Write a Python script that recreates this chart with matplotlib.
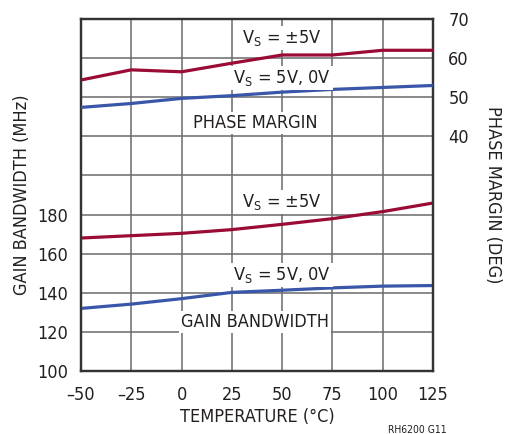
import matplotlib

matplotlib.use("Agg")
import matplotlib.pyplot as plt

plt.rcParams["font.family"] = ["DejaVu Sans"]
plt.rcParams["font.stretch"] = "condensed"
plt.rcParams["mathtext.fontset"] = "custom"
plt.rcParams["mathtext.rm"] = "DejaVu Sans:stretch=condensed"

TEMPS = [-50, -25, 0, 25, 50, 75, 100, 125]
PM_DUAL = [54.4, 57.0, 56.5, 58.7, 60.8, 60.8, 62.0, 62.0]
PM_SINGLE = [47.4, 48.4, 49.7, 50.4, 51.3, 52.0, 52.5, 53.0]
GBW_DUAL = [168.0, 169.2, 170.4, 172.3, 175.0, 177.9, 181.5, 185.9]
GBW_SINGLE = [132.0, 134.2, 137.0, 140.2, 141.3, 142.5, 143.4, 143.7]

GBW_TICKS = [100, 120, 140, 160, 180]
PM_TICKS = [40, 50, 60, 70]

RED = "#9A0B36"
BLUE = "#3A56A8"
GRID = "#6a6a6a"
TXT = "#231f20"
FS = 13

fig = plt.figure(figsize=(5.05, 4.34), dpi=100)
ax = fig.add_axes([81 / 505, 1 - 371 / 434, 352 / 505, 352 / 434])
ax2 = ax.twinx()

ax.set_xlim(-50, 125)
ax.set_ylim(100, 280)
ax2.set_ylim(-20, 70)

ax.set_xticks(TEMPS)
ax.set_xticklabels([str(t).replace("-", "\u2013") for t in TEMPS], fontsize=FS, color=TXT)
ax.set_yticks(range(100, 281, 20), minor=True)
ax.set_yticks(GBW_TICKS)
ax.set_yticklabels([str(t) for t in GBW_TICKS], fontsize=FS, color=TXT)
ax2.set_yticks(PM_TICKS)
ax2.set_yticklabels([str(t) for t in PM_TICKS], fontsize=FS, color=TXT)

ax.grid(True, which="both", color=GRID, linewidth=1.1, zorder=0)
ax.tick_params(axis="x", which="both", length=0, pad=11)
ax.tick_params(axis="y", which="both", length=0, pad=9)
ax2.tick_params(length=0, pad=11)
for a in (ax, ax2):
    for s in a.spines.values():
        s.set_color("#333333")
        s.set_linewidth(1.6)

ax.plot(TEMPS, GBW_DUAL, color=RED, linewidth=2.3, solid_capstyle="butt", zorder=3)
ax.plot(TEMPS, GBW_SINGLE, color=BLUE, linewidth=2.3, solid_capstyle="butt", zorder=3)
ax2.plot(TEMPS, PM_DUAL, color=RED, linewidth=2.3, solid_capstyle="butt", zorder=3)
ax2.plot(TEMPS, PM_SINGLE, color=BLUE, linewidth=2.3, solid_capstyle="butt", zorder=3)

box = dict(facecolor="white", edgecolor="none", pad=1.5)
labels = [
    (50, 63.9, "V$_\\mathregular{S}$ = \u00b15V"),
    (50, 53.6, "V$_\\mathregular{S}$ = 5V, 0V"),
    (36.5, 42.1, "PHASE MARGIN"),
    (50, 21.9, "V$_\\mathregular{S}$ = \u00b15V"),
    (50, 3.3, "V$_\\mathregular{S}$ = 5V, 0V"),
    (36.5, -8.7, "GAIN BANDWIDTH"),
]
for x, y, s in labels:
    ax2.text(x, y, s, ha="center", va="baseline", fontsize=FS, color=TXT, bbox=box, zorder=4)

ax.set_xlabel("TEMPERATURE (\u00b0C)", fontsize=FS, color=TXT, labelpad=3)
ax.set_ylabel("GAIN BANDWIDTH (MHz)", fontsize=FS, color=TXT, labelpad=5)
ax2.set_ylabel("PHASE MARGIN (DEG)", fontsize=FS, color=TXT, rotation=270, labelpad=24)

fig.text(447 / 505, 1 - 430 / 434, "RH6200 G11", ha="right", va="center", fontsize=7.5, color=TXT)

fig.savefig("out.png", dpi=100)
